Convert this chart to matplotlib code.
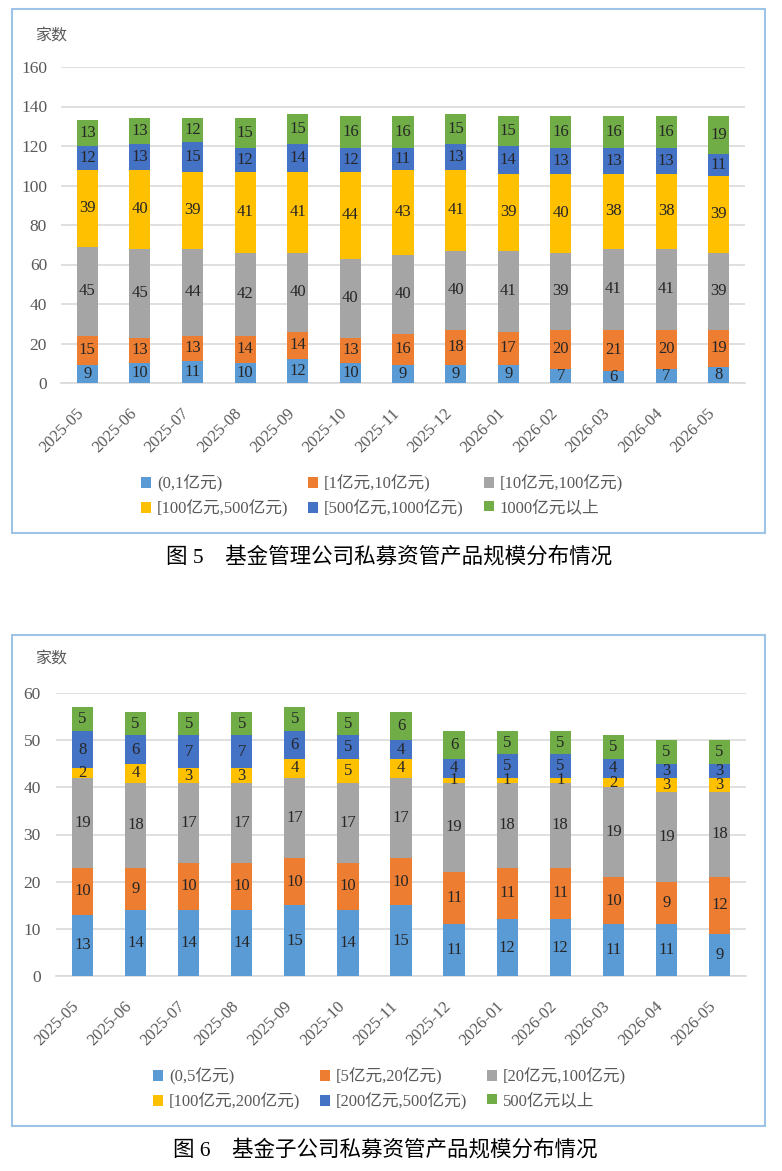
import numpy as np
import matplotlib.pyplot as plt
from matplotlib.patches import Rectangle

months = ["2025-05", "2025-06", "2025-07", "2025-08", "2025-09", "2025-10", "2025-11",
          "2025-12", "2026-01", "2026-02", "2026-03", "2026-04", "2026-05"]

# 图5 基金管理公司
labels_a = ["(0,1亿元)", "[1亿元,10亿元)", "[10亿元,100亿元)",
            "[100亿元,500亿元)", "[500亿元,1000亿元)", "1000亿元以上"]
a1 = [9, 10, 11, 10, 12, 10, 9, 9, 9, 7, 6, 7, 8]
a2 = [15, 13, 13, 14, 14, 13, 16, 18, 17, 20, 21, 20, 19]
a3 = [45, 45, 44, 42, 40, 40, 40, 40, 41, 39, 41, 41, 39]
a4 = [39, 40, 39, 41, 41, 44, 43, 41, 39, 40, 38, 38, 39]
a5 = [12, 13, 15, 12, 14, 12, 11, 13, 14, 13, 13, 13, 11]
a6 = [13, 13, 12, 15, 15, 16, 16, 15, 15, 16, 16, 16, 19]

# 图6 基金子公司
labels_b = ["(0,5亿元)", "[5亿元,20亿元)", "[20亿元,100亿元)",
            "[100亿元,200亿元)", "[200亿元,500亿元)", "500亿元以上"]
b1 = [13, 14, 14, 14, 15, 14, 15, 11, 12, 12, 11, 11, 9]
b2 = [10, 9, 10, 10, 10, 10, 10, 11, 11, 11, 10, 9, 12]
b3 = [19, 18, 17, 17, 17, 17, 17, 19, 18, 18, 19, 19, 18]
b4 = [2, 4, 3, 3, 4, 5, 4, 1, 1, 1, 2, 3, 3]
b5 = [8, 6, 7, 7, 6, 5, 4, 4, 5, 5, 4, 3, 3]
b6 = [5, 5, 5, 5, 5, 5, 6, 6, 5, 5, 5, 5, 5]

colors = ["#5B9BD5", "#ED7D31", "#A5A5A5", "#FFC000", "#4472C4", "#70AD47"]
FONT = ["Liberation Serif", "Noto Sans CJK SC", "DejaVu Sans"]
plt.rcParams["font.family"] = FONT

W, H = 782, 1171
fig = plt.figure(figsize=(W / 100, H / 100), dpi=100)


def fx(px):
    return px / W


def fy(py):
    return 1 - py / H


def draw(rect, series, labels, ymax, ystep, leg_xy, ypad):
    ax = fig.add_axes(rect)
    x = np.arange(len(months))
    bottom = np.zeros(len(months))
    handles = []
    for vals, lab, c in zip(series, labels, colors):
        vals = np.array(vals)
        bars = ax.bar(x, vals, 0.4, bottom=bottom, color=c, label=lab, zorder=3)
        handles.append(bars)
        for xi, b, v in zip(x, bottom, vals):
            ax.text(xi, b + v / 2, str(v), ha="center", va="center",
                    fontsize=12, color="#262626", zorder=4)
        bottom = bottom + vals
    ax.set_xlim(-0.5, len(months) - 0.5)
    ax.set_ylim(0, ymax)
    ax.set_yticks(np.arange(0, ymax + 1, ystep))
    ax.yaxis.grid(True, color="#D9D9D9", lw=1.2, zorder=0)
    for s in ["top", "right", "left"]:
        ax.spines[s].set_visible(False)
    ax.spines["bottom"].set_color("#D9D9D9")
    ax.spines["bottom"].set_linewidth(1.2)
    ax.tick_params(axis="y", length=0, pad=ypad, labelsize=12.5, labelcolor="#595959")
    ax.tick_params(axis="x", length=0, pad=16, labelsize=12, labelcolor="#595959")
    ax.set_xticks(x)
    ax.set_xticklabels(months, rotation=45, ha="right")
    order = [0, 3, 1, 4, 2, 5]
    fig.legend([handles[i] for i in order], [labels[i] for i in order],
               loc="upper left", bbox_to_anchor=leg_xy, ncol=3, frameon=False,
               fontsize=12, handlelength=0.6, handleheight=0.6,
               handletextpad=0.35, columnspacing=1.2, labelspacing=0.45,
               borderpad=0, borderaxespad=0, labelcolor="#595959")
    return ax


draw([fx(61), fy(383), fx(745) - fx(61), fy(67) - fy(383)],
     [a1, a2, a3, a4, a5, a6], labels_a, 160, 20, (fx(141), fy(475)), 10)
draw([fx(56), fy(976), fx(746) - fx(56), fy(693) - fy(976)],
     [b1, b2, b3, b4, b5, b6], labels_b, 60, 10, (fx(153), fy(1068)), 11)

fig.text(fx(35), fy(37), "家数", fontsize=11.5, color="#595959", va="center")
fig.text(fx(35), fy(660), "家数", fontsize=11.5, color="#595959", va="center")

fig.text(fx(389), fy(557), "图 5    基金管理公司私募资管产品规模分布情况",
         fontsize=15.5, ha="center", va="center", color="black")
fig.text(fx(385), fy(1150), "图 6    基金子公司私募资管产品规模分布情况",
         fontsize=15.5, ha="center", va="center", color="black")

for top, bot in [(9, 533), (635, 1126)]:
    fig.patches.append(Rectangle((fx(12), fy(bot)), fx(765) - fx(12), fy(top) - fy(bot),
                                 transform=fig.transFigure, fill=False,
                                 edgecolor="#9DC3E6", lw=1.5))

fig.savefig("out.png", dpi=100)
